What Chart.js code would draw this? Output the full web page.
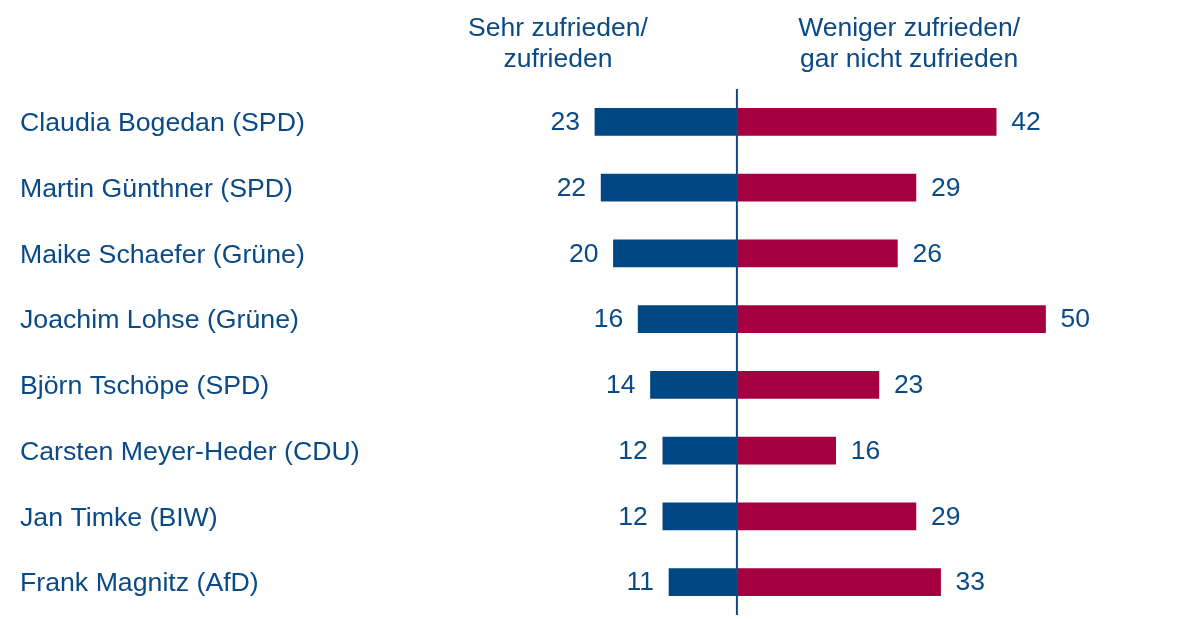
<!DOCTYPE html>
<html>
<head>
<meta charset="utf-8">
<script src="https://cdn.jsdelivr.net/npm/chart.js@4"></script>
<style>
    html, body { margin: 0; padding: 0; background: #fff; }
    #wrap { width: 1181px; height: 619px; position: relative; }
</style>
</head>
<body>
<div id="wrap"><canvas id="chart_poll"></canvas></div>
<script>
const categories = [
    'Claudia Bogedan (SPD)',
    'Martin Günthner (SPD)',
    'Maike Schaefer (Grüne)',
    'Joachim Lohse (Grüne)',
    'Björn Tschöpe (SPD)',
    'Carsten Meyer-Heder (CDU)',
    'Jan Timke (BIW)',
    'Frank Magnitz (AfD)'
];
const satisfied = [23, 22, 20, 16, 14, 12, 12, 11];
const dissatisfied = [42, 29, 26, 50, 23, 16, 29, 33];
const headerLeft = ['Sehr zufrieden/', 'zufrieden'];
const headerRight = ['Weniger zufrieden/', 'gar nicht zufrieden'];

const textColor = '#0a4a86';
const fontFamily = "'Liberation Sans', Arial, sans-serif";

// value labels, header and the zero line
const decorations = {
    id: 'decorations',
    afterDatasetsDraw(chart) {
        const ctx = chart.ctx;
        const x = chart.scales.x;
        const area = chart.chartArea;
        const zero = x.getPixelForValue(0);

        ctx.save();
        ctx.strokeStyle = textColor;
        ctx.lineWidth = 2;
        ctx.beginPath();
        ctx.moveTo(zero, area.top);
        ctx.lineTo(zero, area.bottom);
        ctx.stroke();

        ctx.font = '26.5px ' + fontFamily;
        ctx.fillStyle = textColor;
        ctx.textBaseline = 'middle';

        chart.getDatasetMeta(0).data.forEach((bar, i) => {
            ctx.textAlign = 'right';
            ctx.fillText(satisfied[i], bar.x - 15, bar.y + 1);
        });
        chart.getDatasetMeta(1).data.forEach((bar, i) => {
            ctx.textAlign = 'left';
            ctx.fillText(dissatisfied[i], bar.x + 15, bar.y + 1);
        });

        ctx.textAlign = 'center';
        ctx.textBaseline = 'alphabetic';
        const leftX = x.getPixelForValue(-29);
        const rightX = x.getPixelForValue(27.9);
        headerLeft.forEach((t, i) => ctx.fillText(t, leftX, 36 + i * 31));
        headerRight.forEach((t, i) => ctx.fillText(t, rightX, 36 + i * 31));
        ctx.restore();
    }
};

new Chart(document.querySelector('#chart_poll'), {
    type: 'bar',
    data: {
        labels: categories,
        datasets: [
            {
                label: 'Sehr zufrieden/zufrieden',
                data: satisfied.map(v => -v),
                backgroundColor: '#004884',
                barThickness: 27
            },
            {
                label: 'Weniger zufrieden/gar nicht zufrieden',
                data: dissatisfied,
                backgroundColor: '#a50041',
                barThickness: 27
            }
        ]
    },
    options: {
        indexAxis: 'y',
        responsive: true,
        maintainAspectRatio: false,
        animation: false,
        layout: {
            padding: { top: 89, bottom: 4, left: 20, right: 12 }
        },
        plugins: {
            legend: { display: false },
            tooltip: { enabled: false }
        },
        scales: {
            x: {
                stacked: true,
                display: false,
                min: -40,
                max: 70
            },
            y: {
                stacked: true,
                grid: { display: false },
                border: { display: false },
                ticks: {
                    crossAlign: 'far',
                    labelOffset: 2,
                    color: textColor,
                    font: { size: 26.7, family: fontFamily }
                },
                afterFit(scale) {
                    scale.width = 470;
                    scale.paddingTop = 0;
                    scale.paddingBottom = 0;
                }
            }
        }
    },
    plugins: [decorations]
});
</script>
</body>
</html>
